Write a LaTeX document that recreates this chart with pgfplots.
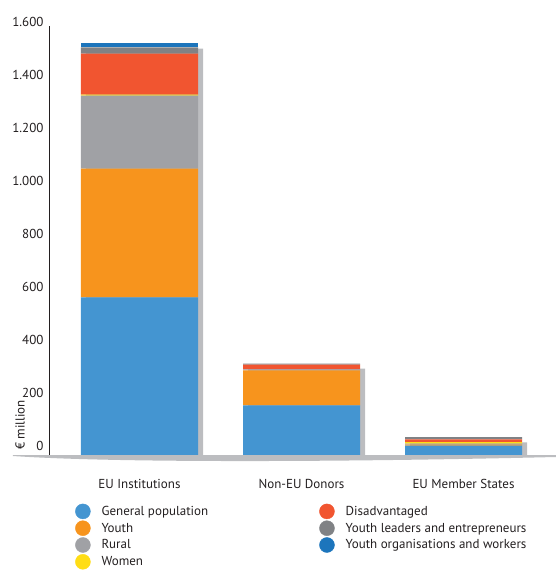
\documentclass[border=0pt]{standalone}
\usepackage{fontspec}
\setmainfont{PT Sans}
\usepackage{pgfplots}
\pgfplotsset{compat=1.18}
\definecolor{cgen}{HTML}{4495D1}
\definecolor{cyouth}{HTML}{F7941D}
\definecolor{crural}{HTML}{A0A1A5}
\definecolor{cwomen}{HTML}{FFDD15}
\definecolor{cdis}{HTML}{F15530}
\definecolor{clead}{HTML}{808285}
\definecolor{corg}{HTML}{1C75BC}
\definecolor{cshadow}{HTML}{BCBDC0}
\definecolor{ctext}{HTML}{231F20}
\begin{document}
\begin{tikzpicture}[font=\fontsize{13}{15}\selectfont, text=ctext]
\path[use as bounding box] (-49pt,-115pt) rectangle (507pt,455pt);
\pgfplotsset{base/.style={scale only axis, width=507pt, height=429pt,
  xmin=-0.55864, xmax=2.57099, ymin=0, ymax=1619,
  at={(0pt,0pt)}, anchor=south west, clip=false}}
% shadow axis with legend
\begin{axis}[base, hide axis,
  legend columns=2,
  legend style={draw=none, fill=none, inner sep=0pt, at={(0,0)}, anchor=north west,
    xshift=26pt, yshift=-48.5pt, row sep=1.4pt,
    nodes={inner sep=0pt, text=ctext},
    /tikz/every even column/.append style={column sep=111pt},
    /tikz/every odd column/.append style={column sep=11pt}},
  legend cell align=left]
\addplot[ybar, bar width=117pt, bar shift=5pt, fill=cshadow, draw=none, forget plot]
  coordinates {(0,1534) (1,326) (2,48)};
\addlegendimage{legend image code/.code={\fill[cgen] (7.5pt,0pt) circle (7.5pt);}}
\addlegendentry{General population}
\addlegendimage{legend image code/.code={\fill[cdis] (7.5pt,0pt) circle (7.5pt);}}
\addlegendentry{Disadvantaged}
\addlegendimage{legend image code/.code={\fill[cyouth] (7.5pt,0pt) circle (7.5pt);}}
\addlegendentry{Youth}
\addlegendimage{legend image code/.code={\fill[clead] (7.5pt,0pt) circle (7.5pt);}}
\addlegendentry{Youth leaders and entrepreneurs}
\addlegendimage{legend image code/.code={\fill[crural] (7.5pt,0pt) circle (7.5pt);}}
\addlegendentry{Rural}
\addlegendimage{legend image code/.code={\fill[corg] (7.5pt,0pt) circle (7.5pt);}}
\addlegendentry{Youth organisations and workers}
\addlegendimage{legend image code/.code={\fill[cwomen] (7.5pt,0pt) circle (7.5pt);}}
\addlegendentry{Women}
\end{axis}
% main stacked axis
\begin{axis}[base, ybar stacked, bar width=117pt,
  axis y line*=left, axis x line*=bottom,
  x axis line style={draw=none},
  y axis line style={draw=ctext, line width=0.8pt, -},
  major tick length=0pt,
  xtick={0,1,2},
  xticklabels={EU Institutions, Non-EU Donors, EU Member States},
  xticklabel style={yshift=-21pt},
  ytick={0,200,...,1600},
  scaled y ticks=false,
  yticklabel style={yshift=8.6pt, xshift=-2pt},
  /pgf/number format/.cd, 1000 sep={.}, assume math mode=true]
\addplot[fill=cgen, draw=none] coordinates {(0,595) (1,187) (2,35)};
\addplot[fill=cyouth, draw=none] coordinates {(0,486) (1,132) (2,4)};
\addplot[fill=crural, draw=none] coordinates {(0,275) (1,4) (2,4)};
\addplot[fill=cwomen, draw=none] coordinates {(0,4) (1,0) (2,6)};
\addplot[fill=cdis, draw=none] coordinates {(0,155) (1,18) (2,10)};
\addplot[fill=clead, draw=none] coordinates {(0,23) (1,4) (2,8)};
\addplot[fill=corg, draw=none] coordinates {(0,15) (1,0) (2,0)};
\end{axis}
\fill[cshadow] (-36pt,0pt) -- (507pt,0pt) -- (507pt,-2pt) .. controls (251pt,-8pt) and (51pt,-7pt) .. (-36pt,-1pt) -- cycle;
\node[rotate=90] at (-29pt,30pt) {€ million};
\end{tikzpicture}
\end{document}
